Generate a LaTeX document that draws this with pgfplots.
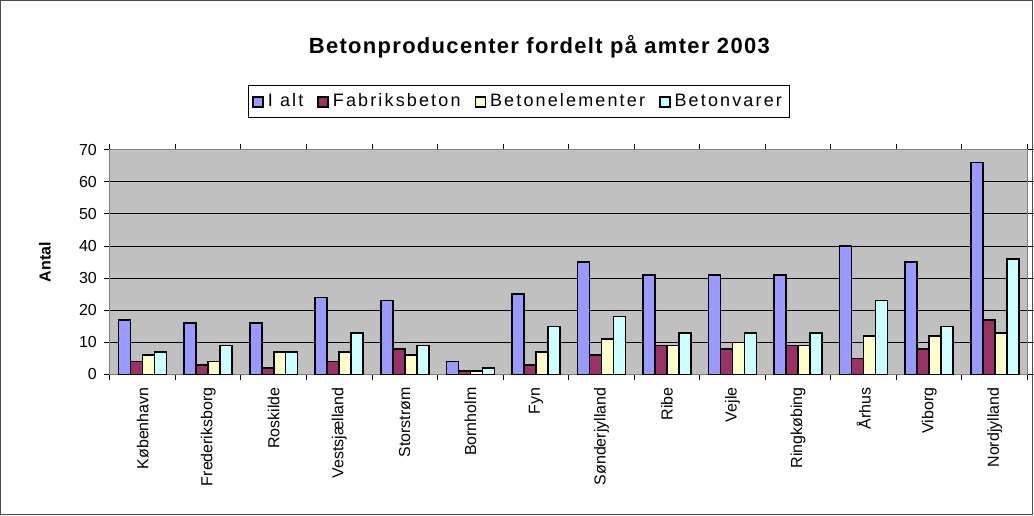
\documentclass[border=0pt]{standalone}
\usepackage{pgfplots}
\pgfplotsset{compat=1.18}
\usepackage{fontspec}
\setmainfont{Liberation Sans}
\definecolor{cA}{HTML}{9999FF}
\definecolor{cB}{HTML}{993366}
\definecolor{cC}{HTML}{FFFFCC}
\definecolor{cD}{HTML}{CCFFFF}
\definecolor{plotbg}{HTML}{C0C0C0}
\begin{document}
\begin{tikzpicture}
\draw[black!70, line width=0.5pt] (0.25pt,0.25pt) rectangle (516.75pt,257.75pt);
\begin{axis}[
  at={(55pt,70.5pt)}, anchor=south west,
  scale only axis, width=459.5pt, height=112.5pt,
  ybar=0pt, bar width=6pt,
  xmin=-0.5, xmax=13.5, ymin=0, ymax=70,
  xtick={0,...,13},
  xticklabels={København,Frederiksborg,Roskilde,Vestsjælland,Storstrøm,Bornholm,Fyn,Sønderjylland,Ribe,Vejle,Ringkøbing,Århus,Viborg,Nordjylland},
  minor xtick={-0.5,0.5,...,13.5},
  major x tick style={draw=none},
  minor x tick style={black, line width=0.5pt},
  tick align=outside, minor tick length=3pt, major tick length=3pt,
  ytick={0,10,...,70},
  y tick style={black, line width=0.5pt},
  xticklabel style={rotate=90, anchor=east, font=\fontsize{8}{9}\selectfont},
  yticklabel style={font=\fontsize{8}{9}\selectfont},
  /pgf/number format/assume math mode=true,
  ymajorgrids, grid style={black, line width=0.5pt},
  axis background/.style={fill=plotbg},
  axis line style={black!50, line width=0.6pt},
  ylabel={\textbf{Antal}}, ylabel style={font=\fontsize{8}{9}\selectfont, at={(axis description cs:-0.0707,0.5)}, anchor=center, rotate=0},
  title={\addfontfeature{LetterSpace=6}Betonproducenter fordelt på amter 2003},
  title style={font=\bfseries\fontsize{11}{13}\selectfont, at={(0.468,1.405)}, anchor=center},
  legend style={at={(0.446,1.213)}, anchor=center, legend columns=4, draw=black, line width=0.5pt,
    font=\fontsize{9}{10}\selectfont\addfontfeature{LetterSpace=12}, inner sep=2pt,
    /tikz/every even column/.append style={column sep=5pt}},
  legend image code/.code={\draw[#1, line width=0.8pt] (0pt,-2.5pt) rectangle (5pt,2.5pt);},
  every axis plot/.append style={draw=black, line width=0.8pt},
]
\addplot[fill=cA] coordinates {(0,17)(1,16)(2,16)(3,24)(4,23)(5,4)(6,25)(7,35)(8,31)(9,31)(10,31)(11,40)(12,35)(13,66)};
\addplot[fill=cB] coordinates {(0,4)(1,3)(2,2)(3,4)(4,8)(5,1)(6,3)(7,6)(8,9)(9,8)(10,9)(11,5)(12,8)(13,17)};
\addplot[fill=cC] coordinates {(0,6)(1,4)(2,7)(3,7)(4,6)(5,1)(6,7)(7,11)(8,9)(9,10)(10,9)(11,12)(12,12)(13,13)};
\addplot[fill=cD] coordinates {(0,7)(1,9)(2,7)(3,13)(4,9)(5,2)(6,15)(7,18)(8,13)(9,13)(10,13)(11,23)(12,15)(13,36)};
\legend{I alt,Fabriksbeton,Betonelementer,Betonvarer}
\end{axis}
\end{tikzpicture}
\end{document}
